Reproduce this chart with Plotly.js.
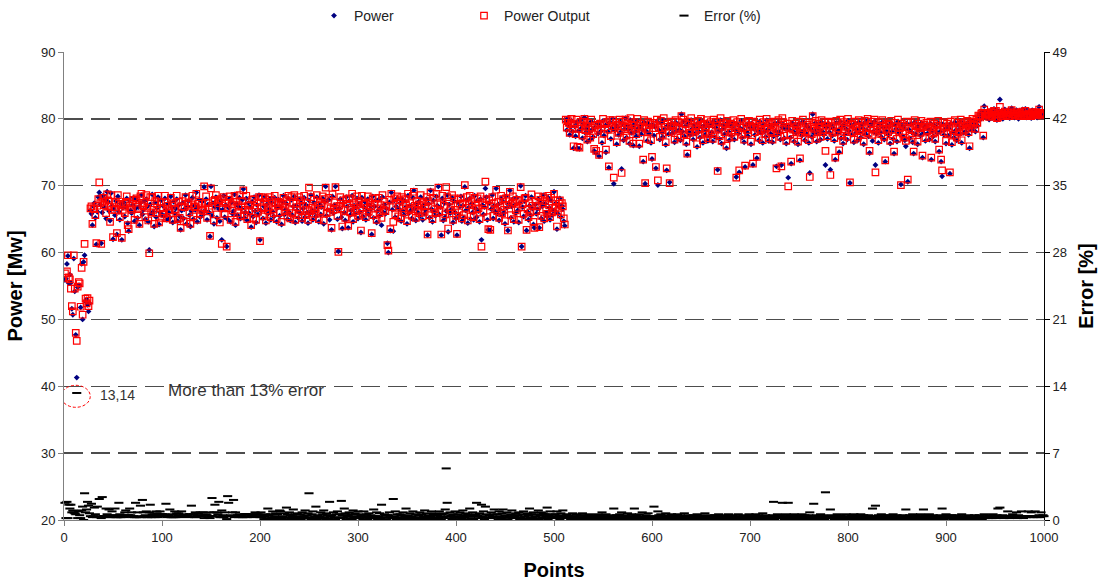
<!DOCTYPE html>
<html><head><meta charset="utf-8">
<script src="https://cdn.plot.ly/plotly-3.0.1.min.js"></script>
<style>html,body{margin:0;padding:0;background:#fff}#chart{width:1101px;height:582px}</style>
</head><body><div id="chart"></div>
<script>
const power = [
55.9,56.1,58.3,59.5,55.4,56.7,55.5,51.6,50.7,59.1,54.2,47.7,41.3,54.8,55.1,55.1,51.8,58.3,50.0,58.6,
59.6,52.7,53.0,52.2,51.2,52.4,66.3,65.8,64.1,66.9,67.4,65.2,61.2,66.1,68.3,69.0,67.2,61.4,66.0,68.5,
66.8,67.9,65.1,69.1,67.6,66.2,64.8,68.9,67.0,62.0,66.5,65.6,67.7,62.7,68.4,66.1,64.9,67.3,61.9,66.7,
67.5,65.4,66.9,68.1,64.4,63.2,67.8,66.3,65.9,67.1,68.2,64.7,66.6,67.9,65.2,66.8,64.1,67.4,68.6,65.7,
66.4,67.7,65.0,68.0,66.9,64.6,60.4,67.2,65.8,68.7,66.1,63.9,67.5,65.3,66.7,68.3,64.2,66.0,67.8,65.6,
67.0,65.5,68.1,66.4,64.9,67.3,66.0,65.2,68.4,66.8,64.5,67.6,65.9,66.6,68.0,64.7,67.1,65.4,63.4,66.3,
67.4,65.1,66.5,68.6,64.3,66.9,67.7,65.6,63.9,66.2,68.2,65.0,67.0,66.4,69.0,64.6,66.8,67.9,65.3,66.1,
67.6,65.7,69.8,66.3,68.0,64.9,67.2,66.0,62.4,69.9,65.5,67.4,64.3,66.8,68.3,65.2,67.0,66.5,64.7,67.8,
61.9,66.4,68.5,65.3,67.1,60.9,65.0,66.7,68.1,64.6,67.5,65.8,66.2,68.7,64.1,67.3,65.6,66.9,68.2,65.1,
66.6,67.9,69.5,65.2,66.0,68.1,64.8,67.4,65.9,66.8,63.8,67.6,65.4,68.3,66.2,64.5,67.1,65.7,68.6,61.9,
66.3,67.8,65.1,66.9,68.4,64.4,67.2,65.8,66.5,68.0,64.9,67.5,66.1,65.4,68.2,67.0,64.6,66.7,67.9,65.5,
66.8,64.2,67.6,68.5,65.7,66.4,67.3,65.0,68.1,66.0,64.8,67.9,65.6,66.9,68.4,64.5,67.0,66.3,65.2,68.0,
65.9,67.4,64.7,66.6,68.2,65.3,67.1,66.0,64.4,67.8,65.8,68.6,66.3,64.9,67.5,66.1,65.4,68.3,66.7,64.6,
67.2,65.7,66.8,68.1,64.3,67.6,69.9,65.5,66.4,67.9,64.9,66.2,63.4,68.4,65.9,67.1,69.9,66.5,65.0,60.2,
66.6,68.0,65.3,63.6,67.4,66.0,64.8,68.3,66.9,63.7,67.7,65.6,66.3,68.5,64.6,67.0,65.8,66.7,68.1,65.1,
67.3,66.1,63.0,68.2,65.4,66.8,67.6,64.9,66.3,68.0,65.7,67.1,66.5,62.7,68.4,65.2,66.9,67.8,64.5,66.2,
67.9,65.5,66.7,64.1,68.3,66.0,67.2,65.8,66.6,61.4,60.0,67.5,63.3,69.0,66.4,63.2,67.8,65.3,66.9,68.1,
65.0,66.5,67.4,64.7,68.0,66.2,65.6,67.7,66.8,64.3,68.5,65.9,67.0,66.3,65.1,68.2,69.3,66.6,64.8,67.3,
66.0,67.6,65.4,68.3,66.7,64.9,67.1,65.8,66.4,68.0,62.6,67.3,65.2,69.3,66.5,64.6,67.8,66.1,65.5,68.4,
67.0,69.9,65.7,66.8,62.6,68.1,64.8,67.4,65.3,66.2,68.6,63.1,67.2,65.9,66.4,68.2,64.5,67.7,66.0,65.1,
62.6,67.5,65.6,66.9,68.4,64.7,67.0,65.2,69.8,66.3,67.9,64.4,66.7,68.1,65.0,67.3,66.0,64.9,68.5,66.6,
65.3,67.8,66.2,64.6,68.0,61.9,67.1,65.7,66.8,69.6,68.3,64.9,63.4,67.4,63.3,66.5,68.6,65.1,67.0,66.1,
69.6,65.8,67.2,64.8,66.4,68.1,65.5,67.6,66.0,64.3,68.4,66.7,63.3,67.3,69.3,65.2,66.9,68.0,64.6,67.1,
65.9,68.2,66.3,64.5,67.4,70.0,60.9,66.8,65.4,67.7,68.5,63.3,66.1,64.9,67.0,65.6,68.3,66.6,64.2,63.7,
67.2,65.8,66.5,68.0,63.7,67.5,65.1,66.9,68.6,64.7,67.3,66.0,65.4,68.2,66.7,64.9,67.8,65.6,66.3,69.1,
66.2,67.4,63.5,65.8,66.9,68.1,65.3,67.0,66.5,64.7,64.0,79.6,78.3,80.1,79.0,77.6,78.8,79.7,78.1,75.6,
78.9,77.4,79.5,75.6,78.2,75.5,79.8,78.6,77.1,79.3,80.2,77.9,78.5,76.6,79.1,78.0,76.9,79.6,78.4,77.3,
75.2,78.7,74.9,79.4,77.8,74.4,79.0,78.2,76.4,79.7,77.5,78.9,75.0,79.2,78.1,72.7,79.5,77.0,78.6,80.0,
70.3,78.3,79.1,76.2,78.8,77.6,79.6,78.0,72.5,79.3,76.8,78.5,80.1,77.2,79.0,78.4,76.3,79.8,77.9,78.7,
76.0,79.2,78.1,77.4,79.7,78.6,75.9,79.0,77.7,78.4,73.6,79.5,70.3,78.2,76.7,79.3,77.8,78.9,76.4,74.0,
79.1,77.5,78.8,72.6,79.6,70.1,78.3,76.9,79.4,78.0,77.3,79.8,78.5,76.1,72.3,79.0,77.7,70.5,78.6,79.3,
77.9,78.7,76.5,79.5,78.2,77.0,79.2,78.4,76.8,80.7,78.1,79.6,77.4,78.9,76.2,74.6,79.3,78.0,77.6,79.8,
78.5,76.9,79.1,77.8,78.6,75.8,79.4,78.1,77.2,79.7,78.8,76.4,79.0,77.6,78.3,79.5,76.7,78.9,77.4,79.2,
78.0,76.6,79.6,77.3,78.7,79.3,72.4,78.2,77.0,79.8,76.3,78.5,79.1,77.7,78.9,75.6,79.4,78.1,76.8,79.0,
77.5,78.8,79.5,76.9,78.3,71.3,79.2,77.8,72.0,78.6,79.7,77.2,78.4,76.5,72.8,79.1,78.0,77.4,79.4,78.7,
76.2,79.3,73.1,78.5,77.6,79.0,74.1,78.2,76.8,79.6,77.9,78.6,76.4,79.2,78.1,77.3,79.8,78.4,76.7,79.1,
77.8,78.9,76.5,77.4,79.3,78.2,72.9,77.6,79.5,78.0,76.9,73.1,78.7,79.2,77.1,78.5,76.3,79.0,71.2,78.4,
77.2,73.3,79.4,78.1,76.6,79.0,77.9,78.6,76.2,79.3,73.8,78.0,77.5,79.6,78.3,76.8,79.1,77.7,78.8,76.4,
71.9,78.5,77.3,80.7,77.9,78.2,79.4,76.6,77.8,79.0,78.4,76.9,79.5,78.1,77.6,79.2,73.1,78.7,77.0,79.3,
78.0,72.4,79.1,77.5,78.6,76.7,73.9,79.4,77.8,78.3,75.0,79.6,77.1,78.9,76.3,79.2,77.7,78.5,76.9,79.7,
78.2,70.4,79.0,77.6,78.8,76.5,79.3,77.9,78.4,76.8,79.5,78.0,77.2,79.1,78.6,76.2,79.4,77.7,78.3,79.8,
77.4,74.9,78.9,79.3,76.7,78.1,79.6,73.1,77.8,78.5,76.4,79.2,78.0,77.3,79.5,78.7,76.9,73.6,78.2,79.0,
77.6,78.8,76.3,79.4,78.1,77.0,74.8,79.1,78.5,76.6,79.6,77.9,78.3,70.2,79.0,77.4,78.7,76.8,75.9,79.3,
70.6,78.4,77.1,79.2,78.0,76.5,74.8,79.5,77.7,78.6,76.2,79.0,78.3,77.5,79.4,74.2,77.9,78.8,76.7,79.1,
77.8,78.5,76.9,79.3,73.9,78.2,77.4,79.0,76.6,78.7,77.9,79.4,75.1,78.1,73.6,71.4,79.2,77.6,78.4,76.3,
79.0,77.5,78.6,71.8,79.3,76.1,78.0,77.2,79.5,78.3,76.8,79.1,77.7,78.5,79.6,76.4,78.9,77.9,79.2,78.1,
78.7,79.4,77.6,75.6,79.0,78.3,79.7,78.8,79.3,78.1,79.6,79.0,80.3,80.7,79.9,80.5,81.1,77.2,81.9,80.6,
80.2,81.0,80.5,79.9,80.8,81.3,80.1,80.6,81.5,80.3,80.9,79.8,81.2,80.4,82.9,80.7,81.1,80.0,80.6,81.4,
80.3,80.9,80.6,81.2,80.1,80.7,81.6,80.4,81.0,80.2,80.8,81.3,80.5,80.0,81.1,80.6,80.9,81.4,80.3,80.7,
81.5,80.2,80.8,81.1,80.4,80.9,80.1,81.3,80.6,80.3,81.0,80.7,80.2,81.2,81.8,80.5,80.8,80.4,81.0,80.6
];
const powerOutput = [
56.9,56.2,57.2,59.6,56.3,56.0,54.6,52.0,51.2,59.6,54.6,48.0,46.8,54.9,55.6,55.4,51.9,57.7,50.7,58.6,
61.3,53.1,52.4,53.2,52.0,52.8,66.6,66.9,64.3,66.6,66.5,65.6,61.4,67.0,68.0,70.5,67.4,61.3,67.6,68.2,
67.1,67.6,65.9,68.7,67.8,66.9,64.6,68.6,66.4,62.3,66.8,66.4,67.5,62.9,68.6,67.3,65.3,67.1,62.2,66.4,
67.3,65.9,67.6,68.4,64.1,63.5,67.0,66.6,66.4,67.3,67.9,64.9,67.8,68.1,65.7,66.5,64.3,68.4,68.8,67.1,
66.9,67.4,65.3,68.6,66.7,64.8,59.9,68.3,66.0,68.3,66.4,64.3,67.7,65.9,67.2,68.5,64.5,66.6,67.5,65.2,
66.6,65.8,68.5,67.5,65.1,67.0,66.3,65.9,68.2,67.0,64.9,67.4,66.5,66.4,68.5,65.0,67.6,65.2,63.7,66.9,
67.7,64.7,66.8,68.3,64.6,67.2,67.5,66.0,64.3,67.2,68.5,65.4,66.8,66.9,68.8,64.9,67.3,67.6,65.8,66.4,
67.3,66.2,69.9,66.6,68.4,65.2,67.4,66.5,62.5,69.6,67.0,67.7,64.8,67.9,68.6,65.7,67.4,67.8,64.5,68.0,
61.3,66.7,68.3,65.8,67.4,60.9,66.6,67.9,68.4,64.9,67.2,66.3,67.6,68.5,64.6,67.6,65.9,67.1,68.6,65.4,
66.9,67.7,69.3,65.6,66.4,68.5,65.0,67.0,66.3,67.1,64.1,67.9,65.2,68.0,66.7,64.9,67.5,66.1,68.3,61.7,
66.8,68.3,65.4,66.6,68.1,64.8,67.6,66.3,66.8,68.3,65.3,67.9,66.5,65.9,68.5,67.4,65.0,67.1,67.6,66.0,
67.4,64.6,67.3,68.2,66.2,66.8,67.8,65.4,68.5,66.5,65.1,68.3,65.9,67.3,68.6,64.9,67.4,66.8,65.6,68.3,
66.3,67.8,65.2,67.0,68.5,65.6,67.4,66.4,64.9,69.7,66.2,68.3,66.7,65.3,67.9,66.5,65.8,68.6,67.0,65.0,
67.5,66.2,67.2,68.4,64.8,68.0,69.7,65.9,66.8,68.2,66.1,66.6,63.7,68.7,66.4,67.5,69.8,66.9,65.5,60.1,
67.0,68.3,66.6,63.9,67.8,66.4,65.2,68.0,67.3,64.0,68.1,66.0,66.7,68.8,65.0,67.4,66.2,67.1,68.4,65.5,
67.7,66.5,63.3,68.5,65.8,67.2,67.3,65.3,66.7,68.4,66.1,67.5,66.9,62.9,68.1,65.6,67.3,68.1,64.9,66.6,
68.2,65.9,67.1,65.2,68.6,66.4,67.6,66.2,67.0,61.1,60.3,67.9,63.5,68.8,66.8,64.6,68.1,65.7,67.3,68.4,
65.4,66.9,67.8,65.1,68.3,66.6,66.0,68.0,67.2,64.7,68.8,66.3,67.4,66.7,65.5,68.5,69.1,67.0,65.2,67.7,
66.4,67.2,65.9,68.6,67.1,65.4,67.5,66.1,66.9,68.3,62.7,67.7,65.6,69.0,66.9,65.0,68.2,66.5,65.9,68.8,
67.4,69.7,66.1,67.2,62.7,68.5,65.2,67.0,65.7,69.8,68.3,63.6,67.6,66.3,66.8,68.6,64.9,68.1,66.4,65.5,
62.8,67.9,66.0,67.3,68.1,65.1,67.4,65.6,70.1,66.7,68.3,64.8,67.1,68.5,65.4,67.7,66.4,65.3,68.2,67.0,
66.5,68.1,66.6,65.0,68.4,60.9,67.5,66.1,67.2,70.6,68.0,65.3,63.5,67.8,63.4,66.9,68.3,65.5,67.4,66.5,
69.4,66.2,67.6,65.2,66.8,68.5,65.9,68.0,66.4,64.7,68.1,67.1,63.3,67.7,69.1,65.6,67.3,68.4,65.0,67.5,
66.3,67.9,66.7,64.9,67.8,69.8,60.9,67.2,65.8,68.1,68.2,63.4,66.5,65.3,67.4,66.0,68.7,67.0,64.6,63.7,
67.6,66.2,66.9,68.4,63.8,67.9,65.5,67.3,68.3,65.1,67.7,66.4,65.8,68.5,67.1,65.3,68.2,66.0,66.7,68.8,
66.6,67.8,63.9,66.2,67.3,67.8,65.7,67.4,66.9,65.1,64.2,79.9,78.7,79.8,79.4,77.9,79.2,80.0,78.5,75.9,
79.2,77.7,79.9,75.8,78.5,75.7,79.5,78.9,77.5,79.6,80.0,78.3,78.8,76.9,79.4,78.4,77.2,79.9,78.7,77.7,
75.5,79.0,75.2,79.1,78.2,74.6,79.3,78.5,76.8,80.0,77.8,79.2,75.4,79.5,78.4,72.9,79.8,77.4,78.9,79.8,
71.2,78.6,79.4,76.5,79.1,77.9,79.9,78.4,71.9,79.6,77.2,78.8,79.9,77.5,79.3,78.7,76.7,80.1,78.2,79.0,
76.3,79.5,78.5,77.7,80.0,78.9,76.3,79.3,78.0,78.7,73.9,79.8,70.4,78.5,77.0,79.6,78.1,79.2,76.8,74.3,
79.4,78.6,79.1,72.8,79.9,70.8,78.6,77.3,79.7,78.3,77.6,80.1,78.8,76.5,72.6,79.3,78.0,70.4,78.9,79.6,
78.2,79.0,76.9,79.8,78.5,77.4,79.5,78.7,77.2,80.4,78.4,79.9,77.7,79.2,76.6,74.8,79.6,78.3,77.9,80.1,
78.8,77.3,79.4,78.1,78.9,76.2,79.7,78.4,77.6,80.0,79.1,76.8,79.3,77.9,78.6,79.8,77.1,79.2,77.7,79.5,
78.3,77.0,79.9,77.7,79.0,79.6,72.2,78.5,77.4,80.1,76.7,78.8,79.4,78.0,79.2,76.0,79.7,78.4,77.2,79.3,
77.9,79.1,79.8,77.3,78.6,71.2,79.5,78.1,72.3,78.9,80.0,77.6,78.7,76.9,73.0,79.4,78.3,77.8,79.7,79.0,
76.6,79.6,73.3,78.8,78.0,79.3,74.3,78.5,77.2,79.9,78.2,78.9,76.8,79.5,78.4,77.7,80.0,78.7,77.1,79.4,
78.1,79.2,76.9,78.8,79.6,78.5,72.6,78.0,79.8,78.3,77.3,72.9,80.1,79.5,77.5,78.8,76.7,79.3,69.9,78.7,
77.6,73.6,79.7,78.4,77.0,79.3,78.2,78.9,76.6,79.6,74.1,78.3,77.9,79.9,78.6,77.2,79.4,78.0,79.1,76.8,
71.3,78.8,77.7,80.4,79.2,78.5,79.7,77.0,78.1,79.3,78.7,77.3,79.8,78.4,78.0,79.5,75.2,79.0,77.4,79.6,
78.3,71.6,79.4,77.9,78.9,77.1,74.2,79.7,78.1,78.6,75.3,79.9,77.5,79.2,76.7,79.5,78.0,78.8,77.3,80.0,
78.5,70.5,79.3,78.0,79.1,76.9,79.6,78.2,78.7,77.2,79.8,78.3,77.6,79.4,78.9,76.6,79.7,78.0,78.6,80.0,
77.8,75.2,79.2,79.6,77.6,78.4,79.9,72.0,78.1,78.8,76.8,79.5,78.3,77.7,79.8,79.0,77.3,73.8,78.5,79.3,
78.0,79.1,76.7,79.7,78.4,77.4,75.1,79.4,78.8,77.0,79.9,78.2,78.6,70.1,79.3,77.8,79.0,77.2,76.7,79.6,
70.9,78.7,77.5,79.5,78.3,76.9,75.1,79.8,78.1,78.9,76.6,79.3,78.6,77.9,79.7,74.5,78.8,79.1,77.1,79.4,
78.2,78.8,77.3,79.6,74.2,78.5,77.8,79.3,77.0,79.0,78.2,79.7,75.4,78.4,73.9,72.3,79.5,78.0,78.7,76.7,
79.3,77.9,78.9,72.0,79.6,76.5,78.3,77.6,79.8,78.6,77.2,79.4,78.0,78.8,79.9,76.8,79.2,78.2,79.5,78.4,
79.0,79.7,78.0,75.9,79.3,78.6,80.0,79.1,79.6,78.5,79.9,79.4,80.5,80.4,80.2,80.8,80.9,77.5,81.4,80.9,
80.5,80.7,80.8,80.3,80.5,81.0,80.4,80.9,81.2,80.6,81.2,80.1,80.2,80.7,81.8,80.4,80.8,80.4,80.9,81.1,
80.6,80.6,80.9,80.9,80.4,81.0,81.3,80.7,80.7,80.5,80.5,81.0,80.8,80.4,80.8,80.9,80.6,81.1,80.6,80.4,
81.2,80.5,80.5,80.8,80.7,80.6,80.4,81.0,80.9,80.6,80.7,81.0,80.5,80.9,81.4,80.8,80.5,80.7,80.7,80.9
];
const errorPct = [
1.8,0.2,1.9,0.2,1.6,1.2,1.6,0.8,1.0,0.8,0.7,0.6,13.3,0.2,0.9,0.5,0.2,1.0,1.4,0.0,
2.8,0.8,1.1,1.9,1.5,0.7,0.4,1.7,0.3,0.4,1.3,0.6,0.3,1.4,0.4,2.2,0.3,0.2,2.4,0.4,
0.4,0.4,1.2,0.6,0.3,1.1,0.3,0.4,0.9,0.5,0.5,1.2,0.3,0.3,0.3,1.8,0.6,0.3,0.5,0.4,
0.3,0.8,1.0,0.4,0.5,0.5,1.2,0.5,0.8,0.3,0.4,0.3,1.8,0.3,0.8,0.4,0.3,1.5,0.3,2.1,
0.8,0.4,0.5,0.9,0.3,0.3,0.8,1.6,0.3,0.6,0.5,0.6,0.3,0.9,0.7,0.3,0.5,0.9,0.4,0.6,
0.6,0.5,0.6,1.7,0.3,0.4,0.5,1.1,0.3,0.3,0.6,0.3,0.9,0.3,0.7,0.5,0.7,0.3,0.5,0.9,
0.4,0.6,0.5,0.4,0.5,0.4,0.3,0.6,0.6,1.5,0.4,0.6,0.3,0.8,0.3,0.5,0.7,0.4,0.8,0.5,
0.4,0.8,0.2,0.5,0.6,0.5,0.3,0.8,0.2,0.4,2.3,0.4,0.8,1.6,0.4,0.8,0.6,1.9,0.3,0.3,
1.0,0.5,0.3,0.8,0.4,0.1,2.5,1.8,0.4,0.5,0.4,0.8,2.1,0.3,0.8,0.4,0.5,0.3,0.6,0.5,
0.5,0.3,0.3,0.6,0.6,0.6,0.3,0.6,0.6,0.4,0.5,0.4,0.3,0.4,0.8,0.6,0.6,0.6,0.4,0.3,
0.8,0.3,0.5,0.1,0.4,0.6,0.2,1.2,0.5,0.0,0.6,0.3,0.9,0.2,0.4,0.7,0.1,0.6,0.3,1.0,
0.9,0.2,0.4,0.0,0.7,0.3,1.3,0.6,0.1,0.8,0.5,0.2,0.4,1.1,0.3,0.6,0.0,0.7,0.2,0.4,
0.6,0.1,0.8,0.3,0.4,1.0,0.2,0.5,0.7,2.8,0.3,0.0,0.6,0.9,0.2,0.4,1.4,0.1,0.5,0.3,
0.4,0.8,0.2,0.6,1.0,0.3,0.1,0.7,0.5,0.2,1.9,0.4,0.5,0.0,0.8,0.3,0.1,0.6,0.9,0.2,
0.6,0.2,2.0,0.5,0.3,1.2,0.7,0.1,0.4,0.5,0.8,0.2,0.6,0.0,1.0,0.3,0.7,0.4,0.2,0.9,
0.6,0.2,0.5,0.4,0.1,0.9,0.4,0.3,0.6,0.0,0.7,0.2,0.5,0.3,0.4,1.1,0.2,0.4,0.8,0.1,
0.4,0.7,0.2,1.6,0.3,0.1,0.6,0.5,0.0,0.5,0.5,0.8,0.3,0.3,0.2,2.2,0.4,0.9,0.1,0.6,
0.3,0.1,0.6,0.5,0.0,0.8,0.2,0.4,1.2,0.3,0.5,0.1,0.7,0.2,0.4,0.9,0.3,0.0,0.6,0.2,
0.2,0.5,0.8,0.1,0.6,0.3,0.4,1.0,0.2,0.7,0.1,0.5,0.3,0.4,0.9,0.2,0.6,0.0,0.7,0.3,
0.5,0.2,0.9,0.4,0.1,0.6,0.3,0.7,1.1,5.4,1.8,0.4,0.2,0.8,0.5,0.1,0.6,0.3,0.9,0.4,
0.3,0.6,0.1,0.8,0.4,0.2,1.0,0.5,0.3,0.7,0.0,0.6,0.4,1.2,0.2,0.5,0.8,0.1,0.4,0.6,
1.8,0.5,0.2,0.7,0.4,1.6,0.3,0.9,0.1,1.4,0.6,0.3,0.2,0.5,0.2,0.8,0.4,0.6,1.1,0.3,
0.3,0.6,0.1,0.9,0.4,0.2,0.7,1.1,0.3,0.5,0.0,0.8,0.1,0.4,0.3,0.6,1.0,0.2,0.5,0.4,
0.7,0.2,0.5,0.8,0.1,0.3,0.1,0.6,0.9,0.4,0.2,0.1,0.7,0.5,1.2,0.3,0.6,0.2,0.8,0.0,
0.4,0.6,0.2,1.0,0.1,0.5,0.8,0.3,0.7,0.2,0.6,0.4,1.3,0.1,0.5,0.9,0.3,0.6,0.2,0.4,
0.6,0.3,0.9,0.2,0.5,0.1,0.7,0.4,1.0,0.3,0.2,0.4,0.6,0.2,0.5,0.3,0.1,0.4,0.7,0.3,
0.4,0.2,0.6,0.1,0.3,0.2,0.5,0.1,0.7,0.3,0.2,0.5,0.0,0.4,0.3,0.6,0.2,0.4,0.1,0.5,
0.3,0.4,0.2,0.3,0.6,0.2,0.1,0.5,0.8,0.3,0.4,0.1,0.6,0.2,0.4,0.3,0.1,0.5,0.2,0.3,
1.2,0.4,0.2,0.5,0.1,0.3,0.6,0.2,0.8,0.4,0.1,0.3,0.5,0.2,0.7,0.1,0.4,0.2,0.6,0.3,
0.4,1.2,0.2,0.5,0.1,0.3,0.6,0.2,0.4,0.8,0.3,0.1,0.2,0.5,0.3,0.7,0.1,0.4,0.2,0.3,
0.2,1.4,0.4,0.3,0.1,0.9,0.5,0.2,0.6,0.3,0.1,0.4,0.2,0.7,0.3,0.5,0.1,0.2,0.4,0.6,
0.3,0.1,0.5,0.2,0.4,0.6,0.1,0.3,0.5,0.4,0.2,0.3,0.7,0.1,0.4,0.2,0.5,0.3,0.1,0.4,
0.2,0.5,0.3,0.1,0.4,0.6,0.2,0.3,0.1,0.5,0.2,0.4,0.3,0.7,0.1,0.4,0.2,0.3,0.5,0.1,
0.4,0.2,0.1,0.5,0.3,0.2,0.3,0.6,0.1,0.4,0.2,0.3,0.5,0.1,0.4,0.2,0.3,0.6,0.2,0.1,
0.3,0.5,0.1,0.4,0.2,0.1,0.3,0.6,0.2,0.4,0.1,0.3,0.5,0.2,0.3,0.1,0.4,0.2,0.6,0.3,
0.5,0.2,0.3,0.1,0.4,0.6,0.2,0.3,0.5,0.1,0.4,0.2,0.7,0.3,0.1,0.5,0.2,0.4,0.3,0.1,
0.4,0.2,0.5,1.9,0.1,0.3,0.4,0.6,0.2,0.3,0.5,0.2,1.8,0.4,0.1,0.3,0.6,0.2,1.8,0.4,
0.5,0.3,0.1,0.4,0.6,0.2,0.3,0.1,0.5,0.2,0.4,0.3,0.6,0.1,0.2,0.5,0.3,0.4,0.1,0.5,
0.8,0.2,0.4,0.3,1.7,0.1,0.3,0.5,0.2,0.4,0.1,0.6,0.3,0.2,0.5,0.1,2.9,0.3,0.4,0.2,
0.4,1.1,0.2,0.5,0.3,0.1,0.4,0.2,0.6,0.3,0.1,0.4,0.5,0.2,0.3,0.1,0.4,0.6,0.2,0.3,
0.2,0.1,0.4,0.5,0.3,0.6,0.1,0.3,0.2,0.5,0.4,0.1,0.6,0.2,0.3,0.5,0.2,0.4,0.1,0.3,
0.5,0.4,0.2,0.3,1.2,0.4,0.1,1.5,0.3,0.2,0.5,0.1,0.4,0.6,0.2,0.3,0.5,0.3,0.1,0.4,
0.5,0.2,0.4,0.1,0.3,0.6,0.3,0.2,0.4,0.5,0.1,0.3,0.2,0.2,0.4,0.5,0.1,0.3,1.1,0.2,
0.4,0.2,0.5,0.1,0.3,0.6,0.4,0.2,0.5,0.3,0.1,0.4,0.2,0.6,0.3,0.4,1.1,0.2,0.5,0.1,
0.5,0.3,0.6,0.1,0.4,0.2,0.5,0.3,0.4,0.2,0.1,0.4,0.3,0.5,0.2,1.2,0.3,0.1,0.4,0.6,
0.3,0.5,0.2,0.3,0.4,0.5,0.1,0.4,0.2,0.3,0.5,0.1,0.4,0.2,0.3,0.6,0.1,0.3,0.4,0.2,
0.4,0.2,0.5,0.3,0.1,0.4,0.2,0.3,0.5,0.1,0.4,0.2,0.3,0.5,0.2,0.4,0.1,0.3,0.6,0.2,
0.3,0.4,0.2,0.5,0.4,0.3,0.2,0.6,0.4,0.3,0.2,0.5,1.2,0.4,1.3,0.3,0.4,0.5,0.2,0.4,
0.4,0.3,0.9,0.4,0.2,0.4,0.3,0.6,0.4,0.3,0.4,0.8,0.2,0.5,0.4,0.3,0.9,0.4,0.2,0.4,
0.4,0.3,0.4,0.9,0.4,0.3,0.8,0.4,0.3,0.4,0.9,0.4,0.3,0.4,0.5,0.3,0.8,0.4,0.5,0.4
];
const points = power.map((_, i) => i + 1);
const xTicks = [0,100,200,300,400,500,600,700,800,900,1000];
const powerTicks = [20,30,40,50,60,70,80,90];
const errorTicks = [0,7,14,21,28,35,42,49];

const FONT = 'Liberation Sans, Arial, sans-serif';

const traces = [
  {x: points, y: power, type: 'scatter', mode: 'markers', name: 'Power', legend: 'legend',
   marker: {symbol: 'diamond', size: 4.5, color: '#000080'}},
  {x: points, y: powerOutput, type: 'scatter', mode: 'markers', name: 'Power Output', legend: 'legend2',
   marker: {symbol: 'square-open', size: 6.5, color: '#FF0000', line: {width: 1.2, color: '#FF0000'}}},
  {x: points, y: errorPct, type: 'scatter', mode: 'markers', name: 'Error (%)', yaxis: 'y2', legend: 'legend3',
   cliponaxis: false,
   marker: {symbol: 'line-ew', size: 6.5, color: '#000', line: {width: 2, color: '#000'}}}
];

const legendBase = {orientation: 'h', xref: 'container', yref: 'container', xanchor: 'left', yanchor: 'middle',
  y: 1 - 16/582, bgcolor: 'rgba(0,0,0,0)', font: {family: FONT, size: 14, color: '#222'}};

const layout = {
  width: 1101, height: 582,
  margin: {l: 64, r: 57, t: 52, b: 62},
  paper_bgcolor: '#fff', plot_bgcolor: '#fff',
  font: {family: FONT, size: 13, color: '#222'},
  showlegend: true,
  legend: Object.assign({}, legendBase, {x: 314/1101}),
  legend2: Object.assign({}, legendBase, {x: 464/1101}),
  legend3: Object.assign({}, legendBase, {x: 664/1101}),
  xaxis: {range: [0, 1000], tickvals: xTicks, ticks: 'outside', ticklen: 5, tickcolor: '#808080',
    showline: true, linecolor: '#808080', linewidth: 1, showgrid: false, zeroline: false,
    tickfont: {family: FONT, size: 13, color: '#222'},
    title: {text: '<b>Points</b>', font: {family: FONT, size: 20, color: '#000'}, standoff: 19}},
  yaxis: {range: [20, 90], tickvals: powerTicks, ticks: 'outside', ticklen: 5, tickcolor: '#808080',
    showline: true, linecolor: '#808080', linewidth: 1, zeroline: false,
    showgrid: true, gridcolor: '#4d4d4d', gridwidth: 1.5, griddash: '19px,8px',
    tickfont: {family: FONT, size: 13, color: '#222'},
    title: {text: '<b>Power [Mw]</b>', font: {family: FONT, size: 20, color: '#000'}, standoff: 12}},
  yaxis2: {range: [0, 49], tickvals: errorTicks, overlaying: 'y', side: 'right', ticks: 'outside', ticklen: 5,
    tickcolor: '#000', showline: true, linecolor: '#000', linewidth: 1, showgrid: false, zeroline: false,
    tickfont: {family: FONT, size: 13, color: '#222'},
    title: {text: '<b>Error [%]</b>', font: {family: FONT, size: 20, color: '#000'}, standoff: 12}},
  shapes: [
    {type: 'circle', xref: 'x', yref: 'y', xsizemode: 'pixel', ysizemode: 'pixel',
     xanchor: 12, yanchor: 38.5, x0: -14.5, x1: 14.5, y0: -11, y1: 11,
     line: {color: '#FF0000', width: 1, dash: '3px,2px'}}
  ],
  annotations: [
    {x: 54.5, y: 38.75, xref: 'x', yref: 'y', text: '13,14', showarrow: false,
     font: {family: FONT, size: 14, color: '#333'}},
    {x: 186, y: 39.35, xref: 'x', yref: 'y', text: 'More than 13% error', showarrow: false,
     font: {family: FONT, size: 17, color: '#333'}}
  ]
};

Plotly.newPlot('chart', traces, layout, {displayModeBar: false, staticPlot: true});
</script>
</body></html>
